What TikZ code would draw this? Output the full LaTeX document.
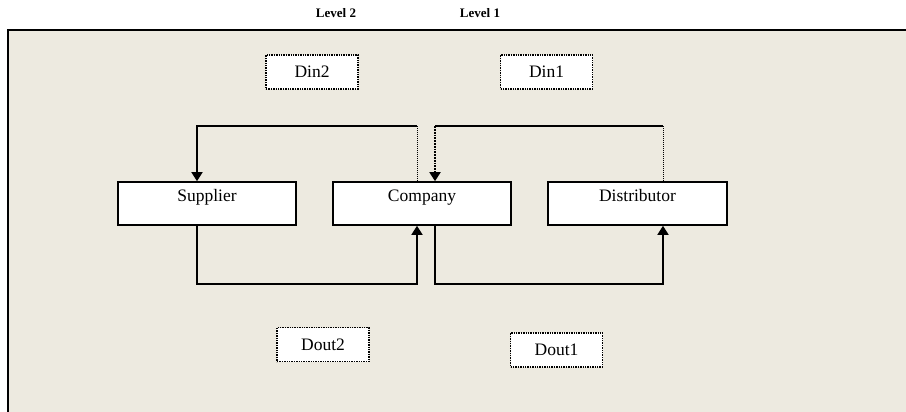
\documentclass[tikz,border=0pt]{standalone}
\usepackage{fontspec}
\setmainfont{Liberation Serif}
\usetikzlibrary{arrows.meta,calc}
\definecolor{panel}{RGB}{237,234,224}
\tikzset{
  mainbox/.style={draw=black, line width=1.6pt, fill=white, minimum width=178pt, minimum height=43pt,
    inner sep=0pt, text height=15pt, text depth=20pt, font=\fontsize{17.5}{20}\selectfont},
  dbox/.style={draw=black, densely dotted, line width=1.4pt, fill=white, minimum width=92pt, minimum height=34pt,
    inner sep=0pt, font=\fontsize{17.5}{20}\selectfont},
  solidline/.style={draw=black, line width=1.6pt},
  thindot/.style={draw=black, densely dotted, line width=1pt},
  thickdot/.style={draw=black, densely dotted, line width=1.8pt},
  tip/.style={-{Triangle[length=9pt,width=11pt]}},
  lvl/.style={font=\bfseries\fontsize{13}{15}\selectfont}
}
\begin{document}
\begin{tikzpicture}[x=1pt,y=-1pt]
\useasboundingbox (0,0) rectangle (906,412);
\fill[panel] (8,30) rectangle (906,412);
\draw[line width=1.6pt] (8,412) -- (8,30) -- (906,30);
\node[lvl] (l2) at (336,13) {Level 2};
\node[lvl] (l1) at (480,13) {Level 1};
\node[dbox] (din2) at (312,72) {Din2};
\node[dbox] (din1) at (546.5,72) {Din1};
\node[dbox] (dout2) at (323,344.5) {Dout2};
\node[dbox] (dout1) at (556.5,350) {Dout1};
\node[mainbox] (sup) at (207,203.5) {Supplier};
\node[mainbox] (co) at (422,203.5) {Company};
\node[mainbox, minimum width=179pt] (di) at (637.5,203.5) {Distributor};
% top left loop
\draw[thindot] ($(co.north)+(-5,0)$) -- ++(0,-55) coordinate (c1);
\draw[solidline, tip] (c1) -| ($(sup.north)+(-10,0)$);
% top right loop
\draw[thindot] ($(di.north)+(25.5,0)$) -- ++(0,-55) coordinate (c2);
\coordinate (c3) at ($(co.north)+(13,-55)$);
\draw[solidline] (c2) -- (c3);
\draw[thickdot, tip] (c3) -- ($(co.north)+(13,0)$);
% bottom loops
\draw[solidline, tip] ($(sup.south)+(-10,0)$) -- ++(0,58) -| ($(co.south)+(-5,0)$);
\draw[solidline, tip] ($(co.south)+(13,0)$) -- ++(0,58) -| ($(di.south)+(25.5,0)$);
\end{tikzpicture}
\end{document}
